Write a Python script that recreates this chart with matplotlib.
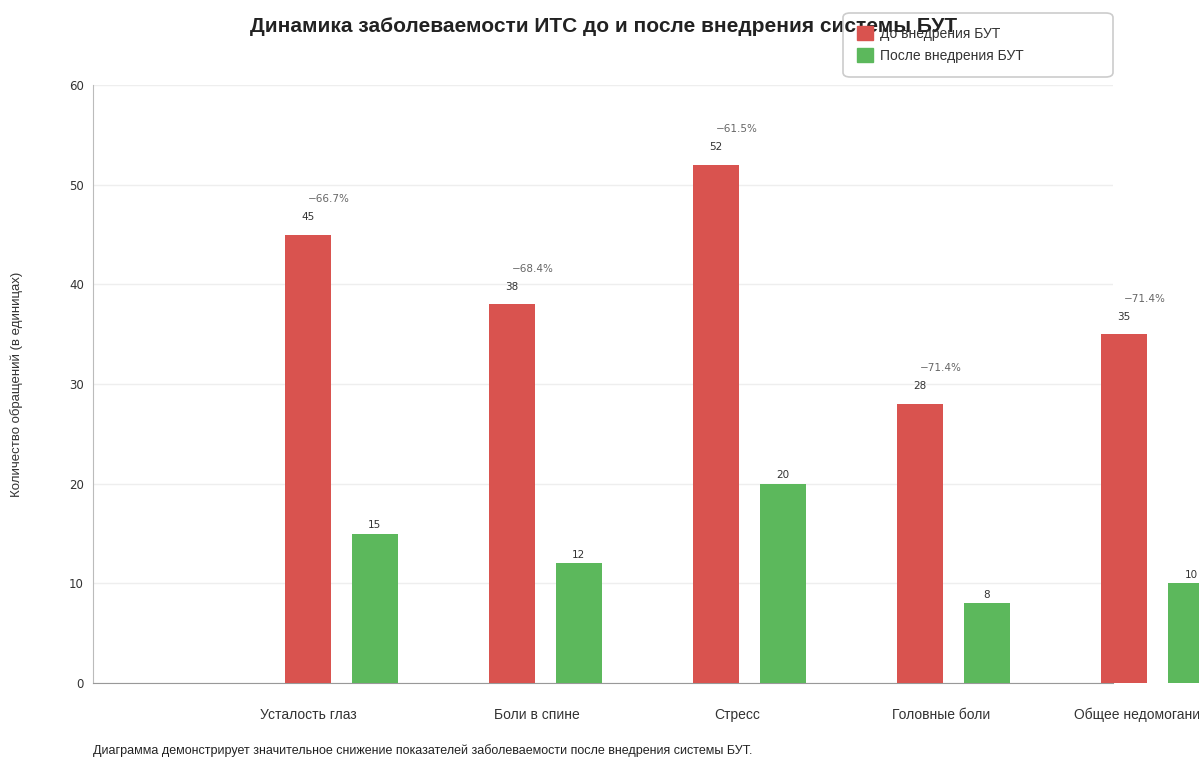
import matplotlib.pyplot as plt
from matplotlib.patches import Patch, FancyBboxPatch
from matplotlib.transforms import blended_transform_factory

plt.rcParams['font.family'] = ['Liberation Sans', 'DejaVu Sans']

categories = ['Усталость глаз', 'Боли в спине', 'Стресс', 'Головные боли', 'Общее недомогание']
before = [45, 38, 52, 28, 35]
after = [15, 12, 20, 8, 10]
label_pos = [1.054, 2.176, 3.157, 4.157, 5.136]

RED = '#d9534f'
GREEN = '#5cb85c'
NUM_FONT = ['DejaVu Sans']

W, H = 1199, 758
fig = plt.figure(figsize=(W / 100, H / 100), dpi=100)
ax = fig.add_axes([93 / W, 1 - 683 / H, 1020 / W, 598 / H])

bw = 0.2255
for i, (b, a) in enumerate(zip(before, after)):
    xr = i + 1.054
    xg = i + 1.382
    ax.bar(xr, b, width=bw, color=RED, clip_on=False, zorder=3)
    ax.bar(xg, a, width=bw, color=GREEN, clip_on=False, zorder=3)
    ax.annotate(str(b), (xr, b), xytext=(0, 9), textcoords='offset points',
                ha='center', va='bottom', fontsize=7.5, color='#333333',
                family=NUM_FONT, annotation_clip=False)
    ax.annotate(str(a), (xg, a), xytext=(0, 2.5), textcoords='offset points',
                ha='center', va='bottom', fontsize=7.5, color='#333333',
                family=NUM_FONT, annotation_clip=False)
    pct = (a - b) / b * 100
    ax.annotate('\u2212%.1f%%' % abs(pct), (xr, b), xytext=(15, 22), textcoords='offset points',
                ha='center', va='bottom', fontsize=7.5, color='#666666',
                family=NUM_FONT, annotation_clip=False)

# category labels as free text: the last one sits past the right edge of the axis
trans = blended_transform_factory(ax.transData, ax.transAxes)
for pos, name in zip(label_pos, categories):
    ax.text(pos, -32 / 598, name, transform=trans, ha='center', va='center',
            fontsize=10, color='#333333', clip_on=False)

ax.set_xlim(0, 5)
ax.set_xticks([])
ax.set_ylim(0, 60)
ax.set_yticks(range(0, 61, 10))
ax.tick_params(axis='y', length=0, pad=6.5, labelsize=8.5, labelcolor='#333333')
for t in ax.get_yticklabels():
    t.set_family(NUM_FONT)
ax.yaxis.grid(True, color='#eeeeee', linewidth=1, zorder=0)
ax.set_axisbelow(True)
for s in ['top', 'right']:
    ax.spines[s].set_visible(False)
ax.spines['left'].set_color('#bbbbbb')
ax.spines['bottom'].set_color('#999999')

ax.set_ylabel('Количество обращений (в единицах)', fontsize=9.5, color='#333333')
ax.yaxis.set_label_coords(-70 / 1020, 0.5)

fig.text(604 / W, 1 - 27 / H, 'Динамика заболеваемости ИТС до и после внедрения системы БУТ',
         ha='center', va='center', fontsize=15, fontweight='bold', color='#222222')

# legend box drawn separately so it can be wider than its entries
frame = FancyBboxPatch((843 / W, 1 - 77 / H), 270 / W, 64 / H,
                       boxstyle='round,pad=0,rounding_size=0.006',
                       transform=fig.transFigure, facecolor='none',
                       edgecolor='#cccccc', linewidth=1.2, zorder=5)
fig.patches.append(frame)

handles = [Patch(color=RED, label='До внедрения БУТ'),
           Patch(color=GREEN, label='После внедрения БУТ')]
leg = fig.legend(handles=handles, loc='upper left', bbox_to_anchor=(857 / W, 1 - 26 / H),
                 fontsize=10, frameon=False, handlelength=1.15, handleheight=1.15,
                 borderpad=0, labelspacing=0.55, handletextpad=0.5, borderaxespad=0)
for t in leg.get_texts():
    t.set_color('#333333')

fig.text(93 / W, 1 - 751 / H, 'Диаграмма демонстрирует значительное снижение показателей заболеваемости после внедрения системы БУТ.',
         ha='left', va='center', fontsize=9, color='#222222')

fig.savefig('out.png', dpi=100)
